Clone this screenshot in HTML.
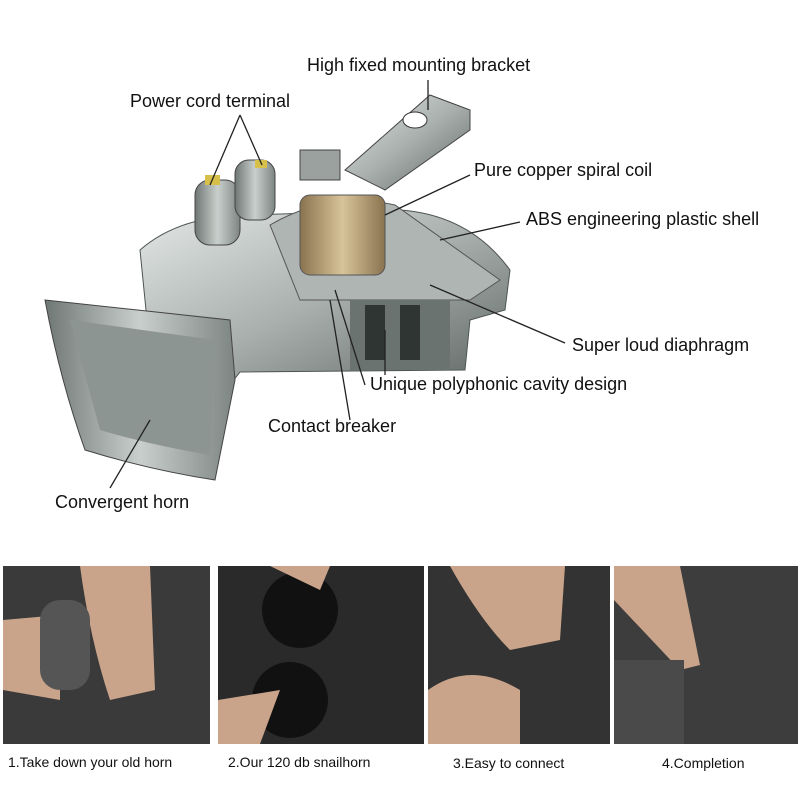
<!DOCTYPE html>
<html><head><meta charset="utf-8"><style>
body{margin:0;width:800px;height:800px;background:#fff;overflow:hidden;font-family:"Liberation Sans",sans-serif}
svg{display:block}
</style></head><body>
<svg width="800" height="800" viewBox="0 0 800 800">
<defs>
<linearGradient id="m" x1="0" y1="0" x2="1" y2="1"><stop offset="0" stop-color="#e4e8e6"/><stop offset="0.5" stop-color="#a9b0ad"/><stop offset="1" stop-color="#5e6663"/></linearGradient>
<linearGradient id="h" x1="0" y1="0" x2="1" y2="0"><stop offset="0" stop-color="#6f7774"/><stop offset="0.5" stop-color="#c9cfcc"/><stop offset="1" stop-color="#7d8582"/></linearGradient>
<linearGradient id="c" x1="0" y1="0" x2="1" y2="0"><stop offset="0" stop-color="#8a7350"/><stop offset="0.5" stop-color="#d8c49a"/><stop offset="1" stop-color="#8a7350"/></linearGradient>
</defs>
<!-- horn body -->
<path d="M140 250 Q180 215 250 215 L400 210 Q470 215 510 270 L505 310 L470 320 L465 370 L240 372 L230 385 L150 350 Z" fill="url(#m)" stroke="#4d5552"/>
<path d="M270 225 Q330 190 395 205 L500 280 L470 300 L300 300 Z" fill="#aeb5b2" stroke="#555"/>
<rect x="300" y="195" width="85" height="80" rx="10" fill="url(#c)" stroke="#555"/>
<path d="M345 170 L430 95 L470 110 L470 130 L385 190 Z" fill="url(#m)" stroke="#444"/>
<ellipse cx="415" cy="120" rx="12" ry="8" fill="#fff" stroke="#333"/>
<rect x="300" y="150" width="40" height="30" fill="#9aa19e" stroke="#444"/>
<rect x="195" y="180" width="45" height="65" rx="15" fill="url(#h)" stroke="#444"/>
<rect x="235" y="160" width="40" height="60" rx="14" fill="url(#h)" stroke="#444"/>
<rect x="205" y="175" width="15" height="10" fill="#d6c04a"/>
<rect x="255" y="160" width="12" height="8" fill="#d6c04a"/>
<rect x="350" y="300" width="100" height="70" fill="#6b7370"/>
<rect x="365" y="305" width="20" height="55" fill="#2f3533"/><rect x="400" y="305" width="20" height="55" fill="#2f3533"/>
<path d="M45 300 L230 320 L235 380 L215 480 Q150 470 85 450 Q60 380 45 300 Z" fill="url(#h)" stroke="#444"/>
<path d="M70 320 L215 340 L210 455 Q150 445 100 430 Z" fill="#8d9592"/>
<!-- leader lines -->
<g stroke="#222" stroke-width="1.3" fill="none">
<line x1="428" y1="80" x2="428" y2="110"/>
<line x1="240" y1="115" x2="210" y2="185"/><line x1="240" y1="115" x2="262" y2="165"/>
<line x1="470" y1="175" x2="385" y2="215"/>
<line x1="520" y1="222" x2="440" y2="240"/>
<line x1="565" y1="343" x2="430" y2="285"/>
<line x1="365" y1="385" x2="335" y2="290"/>
<line x1="350" y1="420" x2="330" y2="300"/>
<line x1="385" y1="375" x2="385" y2="330"/>
<line x1="110" y1="488" x2="150" y2="420"/>
</g>
<g font-size="18" fill="#111">
<text x="307" y="71">High fixed mounting bracket</text>
<text x="130" y="107">Power cord terminal</text>
<text x="474" y="176">Pure copper spiral coil</text>
<text x="526" y="225">ABS engineering plastic shell</text>
<text x="572" y="351">Super loud diaphragm</text>
<text x="370" y="390">Unique polyphonic cavity design</text>
<text x="268" y="432">Contact breaker</text>
<text x="55" y="508">Convergent horn</text>
</g>
<!-- photos -->
<rect x="3" y="566" width="207" height="178" fill="#3a3a3a"/>
<path d="M80 566 L150 566 L155 690 L110 700 Q90 640 80 566Z" fill="#c9a48a"/>
<path d="M3 620 L60 615 L60 700 L3 690Z" fill="#c9a48a"/>
<rect x="40" y="600" width="50" height="90" rx="20" fill="#555"/>
<rect x="218" y="566" width="206" height="178" fill="#2a2a2a"/>
<circle cx="300" cy="610" r="38" fill="#111"/><circle cx="290" cy="700" r="38" fill="#111"/>
<path d="M218 700 L280 690 L260 744 L218 744Z" fill="#c9a48a"/>
<path d="M270 566 L330 566 L320 590 Z" fill="#c9a48a"/>
<rect x="428" y="566" width="182" height="178" fill="#333"/>
<path d="M450 566 L565 566 L560 640 L510 650 Q480 620 450 566Z" fill="#c9a48a"/>
<path d="M428 690 Q470 660 520 690 L520 744 L428 744Z" fill="#c9a48a"/>
<rect x="614" y="566" width="184" height="178" fill="#3d3d3d"/>
<path d="M614 566 L680 566 L700 665 L680 670 L614 600Z" fill="#c9a48a"/>
<rect x="614" y="660" width="70" height="84" fill="#4a4a4a"/>
<g font-size="14" fill="#111">
<text x="8" y="767">1.Take down your old horn</text>
<text x="228" y="767">2.Our 120 db snailhorn</text>
<text x="453" y="768">3.Easy to connect</text>
<text x="662" y="768">4.Completion</text>
</g>
</svg>
</body></html>
